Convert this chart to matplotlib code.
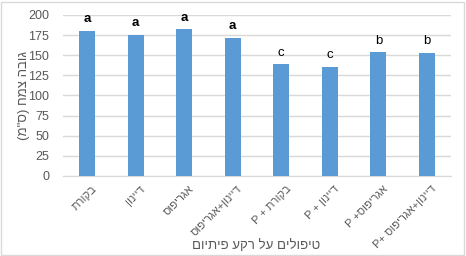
import numpy as np
import matplotlib
matplotlib.use("Agg")
import matplotlib.pyplot as plt
import matplotlib.transforms as mtransforms
from matplotlib.patches import Rectangle

plt.rcParams['font.family'] = ['Liberation Sans', 'DejaVu Sans']

# Hebrew written in visual order (matplotlib has no bidi)
categories = ["תרוקב", "ןונייד", "סופירגא", "סופירגא+ןונייד",
              "P + תרוקב", "P + ןונייד", "P +סופירגא", "P+ סופירגא+ןונייד"]
heights = [180.5, 175.5, 182, 172, 138.7, 135.4, 153.6, 152.8]
letters = ["a", "a", "a", "a", "c", "c", "b", "b"]
yticks = [0, 25, 50, 75, 100, 125, 150, 175, 200]
ylabel = '(מ"ס) חמצ הבוג'
xlabel = "םויתיפ עקר לע םילופיט"

fig = plt.figure(figsize=(4.66, 2.56), dpi=100)
fig.patches.append(Rectangle((0.002, 0.004), 0.994, 0.99, transform=fig.transFigure,
                             fill=False, edgecolor="#D9D9D9", linewidth=1))
ax = fig.add_axes([0.135, 0.3125, 0.833, 0.629])

x = np.arange(len(categories))
ax.bar(x, heights, width=0.33, color="#5B9BD5", zorder=3)

# significance letters above the bars
for i, (h, l) in enumerate(zip(heights, letters)):
    bold = l == "a"
    ax.text(x[i], h + 7, l, ha="center", va="bottom", fontsize=9.5,
            color="black", fontweight="bold" if bold else "normal")

ax.set_ylim(0, 200)
ax.set_xlim(-0.5, len(categories) - 0.5)
ax.set_yticks(yticks)
ax.yaxis.grid(True, color="#D9D9D9", linewidth=1, zorder=0)
ax.set_axisbelow(True)
for s in ["top", "right", "left"]:
    ax.spines[s].set_visible(False)
ax.spines["bottom"].set_color("#D9D9D9")
ax.tick_params(axis="both", length=0, colors="#595959", labelsize=9)
ax.tick_params(axis="y", pad=10)

ax.set_xticks(x)
ax.set_xticklabels(categories, rotation=45, ha="right", va="center",
                   rotation_mode="anchor", fontsize=8)
ax.tick_params(axis="x", pad=8)
shift = mtransforms.ScaledTranslation(8 / 100, 0, fig.dpi_scale_trans)
for lab in ax.get_xticklabels():
    lab.set_transform(lab.get_transform() + shift)

fig.text(24 / 466, 1 - 96 / 256, ylabel, color="#595959", fontsize=9.5,
         rotation=90, ha="center", va="center")
fig.text(0.55, 1 - 246 / 256, xlabel, color="#595959", fontsize=9.5,
         ha="center", va="center")

fig.savefig("out.png", dpi=100)
